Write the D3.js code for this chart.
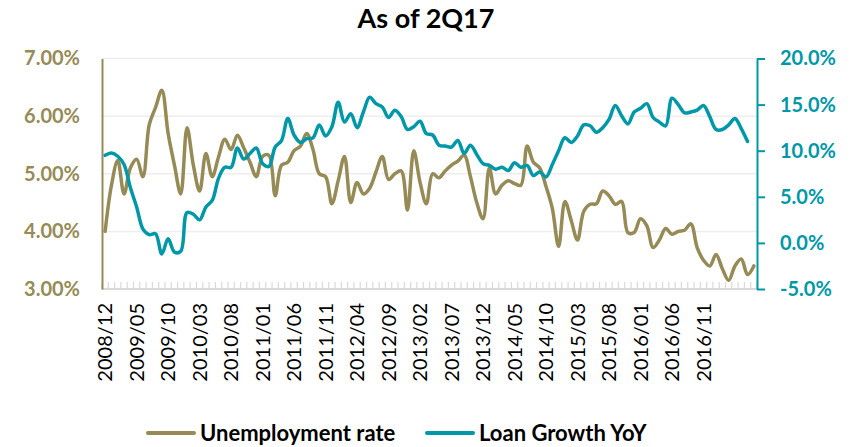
<!DOCTYPE html>
<html>
<head>
<meta charset="utf-8">
<script src="https://cdn.jsdelivr.net/npm/d3@7"></script>
<style>
  html, body { margin: 0; padding: 0; background: #fff; }
  svg { display: block; font-family: Lato, "Open Sans", "Liberation Sans", sans-serif; }
</style>
</head>
<body>
<svg id="chart" width="856" height="447"></svg>
<script>
// Monthly categories, Dec 2008 through Jul 2017
const months = [
  "2008/12",
  "2009/01","2009/02","2009/03","2009/04","2009/05","2009/06","2009/07","2009/08","2009/09","2009/10","2009/11","2009/12",
  "2010/01","2010/02","2010/03","2010/04","2010/05","2010/06","2010/07","2010/08","2010/09","2010/10","2010/11","2010/12",
  "2011/01","2011/02","2011/03","2011/04","2011/05","2011/06","2011/07","2011/08","2011/09","2011/10","2011/11","2011/12",
  "2012/01","2012/02","2012/03","2012/04","2012/05","2012/06","2012/07","2012/08","2012/09","2012/10","2012/11","2012/12",
  "2013/01","2013/02","2013/03","2013/04","2013/05","2013/06","2013/07","2013/08","2013/09","2013/10","2013/11","2013/12",
  "2014/01","2014/02","2014/03","2014/04","2014/05","2014/06","2014/07","2014/08","2014/09","2014/10","2014/11","2014/12",
  "2015/01","2015/02","2015/03","2015/04","2015/05","2015/06","2015/07","2015/08","2015/09","2015/10","2015/11","2015/12",
  "2016/01","2016/02","2016/03","2016/04","2016/05","2016/06","2016/07","2016/08","2016/09","2016/10","2016/11","2016/12",
  "2017/01","2017/02","2017/03","2017/04","2017/05","2017/06","2017/07"
];

// Category labels shown on the x axis (every fifth month)
const tickLabels = [
  "2008/12","2009/05","2009/10","2010/03","2010/08","2011/01","2011/06","2011/11",
  "2012/04","2012/09","2013/02","2013/07","2013/12","2014/05","2014/10","2015/03",
  "2015/08","2016/01","2016/06","2016/11"
];

// Unemployment rate, % (left axis)
const unemployment = [
  4.00, 4.80, 5.23, 4.65, 5.10, 5.25, 4.95, 5.85, 6.15, 6.45,
  5.70, 5.15, 4.65, 5.80, 5.15, 4.70, 5.35, 4.95, 5.29, 5.60,
  5.42, 5.67, 5.45, 5.20, 4.95, 5.30, 5.32, 4.62, 5.15, 5.20,
  5.40, 5.48, 5.70, 5.42, 5.00, 4.95, 4.48, 4.88, 5.30, 4.50,
  4.85, 4.65, 4.75, 5.03, 5.30, 4.90, 5.00, 5.05, 4.37, 5.40,
  4.85, 4.48, 5.00, 4.93, 5.05, 5.15, 5.22, 5.32, 4.95, 4.50,
  4.22, 5.10, 4.65, 4.80, 4.88, 4.83, 4.80, 5.48, 5.20, 5.10,
  4.78, 4.40, 3.74, 4.52, 4.19, 3.85, 4.35, 4.47, 4.48, 4.70,
  4.62, 4.47, 4.52, 3.98, 3.98, 4.22, 4.10, 3.72, 3.85, 4.05,
  3.95, 4.00, 4.02, 4.13, 3.72, 3.50, 3.40, 3.60, 3.35, 3.15,
  3.40, 3.52, 3.25, 3.40
];

// Loan growth year over year, % (right axis); no July 2017 figure
const loanGrowth = [
   9.50,  9.75,  9.40,  8.50,  6.00,  3.90,  1.50,  0.90,  1.00, -1.20,
   0.45, -1.00, -0.90,  3.30,  3.10,  2.50,  3.90,  4.60,  7.00,  8.20,
   8.20, 10.30,  9.10,  9.70, 10.30,  8.60,  8.30, 10.40, 11.10, 13.50,
  11.70, 10.90, 11.30, 11.40, 12.80, 11.60, 12.60, 15.25, 13.10, 14.00,
  12.50, 14.20, 15.80, 15.10, 14.75, 13.60, 14.40, 13.70, 12.30, 12.60,
  13.20, 11.85, 11.70, 10.60, 10.50, 10.40, 11.10,  9.70, 10.60,  9.60,
   8.60,  8.40,  8.00,  8.20,  7.85,  8.70,  8.20,  8.40,  7.30,  7.70,
   7.15,  8.50, 10.00, 11.40, 10.90, 11.60, 12.80, 12.70, 12.00, 12.50,
  13.40, 14.90, 13.80, 12.90, 14.20, 14.60, 15.10, 13.60, 13.10, 12.70,
  15.70, 15.00, 14.10, 14.20, 14.40, 14.90, 13.70, 12.30, 12.30, 12.80,
  13.50, 12.40, 11.00
];

const leftTicks = [3, 4, 5, 6, 7];
const rightTicks = [-5, 0, 5, 10, 15, 20];
const gridTicks = [4, 5, 6, 7];

const seriesNames = ["Unemployment rate", "Loan Growth YoY"];
const titleText = "As of 2Q17";

// ---- layout & styling ----
const plot = { left: 102, right: 757, top: 58.5, bottom: 289 };
const olive = "#968b56";
const teal = "#0098a9";

const svg = d3.select("#chart");

const x = d3.scaleBand().domain(months).range([plot.left, plot.right]).padding(0);
const yL = d3.scaleLinear().domain([3, 7]).range([plot.bottom, plot.top]);
const yR = d3.scaleLinear().domain([-5, 20]).range([plot.bottom, plot.top]);
const cx = m => x(m) + x.bandwidth() / 2;

// title
svg.append("text")
  .attr("x", 426).attr("y", 28)
  .attr("text-anchor", "middle")
  .attr("font-size", 27).attr("font-weight", 700).attr("fill", "#000")
  .text(titleText);

// horizontal gridlines
svg.append("g").selectAll("line").data(gridTicks).join("line")
  .attr("x1", plot.left).attr("x2", plot.right)
  .attr("y1", d => yL(d)).attr("y2", d => yL(d))
  .attr("stroke", "#eeeeee").attr("stroke-width", 1.5);

// x axis: baseline and one small tick per month boundary
const xg = svg.append("g");
xg.append("line")
  .attr("x1", plot.left).attr("x2", plot.right)
  .attr("y1", plot.bottom).attr("y2", plot.bottom)
  .attr("stroke", "#d9d9d9").attr("stroke-width", 2);
const bounds = months.map(m => x(m)).concat([plot.right]);
xg.selectAll("line.mt").data(bounds).join("line").attr("class", "mt")
  .attr("x1", d => d).attr("x2", d => d)
  .attr("y1", plot.bottom).attr("y2", plot.bottom - 7)
  .attr("stroke", "#d9d9d9").attr("stroke-width", 1.2);

// x axis labels (rotated)
const xAxis = d3.axisBottom(x).tickValues(tickLabels).tickSize(0).tickPadding(0);
const xl = svg.append("g").attr("transform", `translate(0,${plot.bottom})`).call(xAxis);
xl.select(".domain").remove();
xl.selectAll("text")
  .attr("transform", "rotate(-90)")
  .attr("text-anchor", "end")
  .attr("x", -14).attr("y", 0).attr("dy", "0.36em")
  .attr("font-size", 20).attr("font-family", "Lato, 'Open Sans', sans-serif")
  .attr("fill", "#000");

// left axis (unemployment)
const left = svg.append("g").attr("transform", `translate(${plot.left},0)`)
  .call(d3.axisLeft(yL).tickValues(leftTicks).tickSize(0).tickSizeOuter(0).tickPadding(22)
    .tickFormat(d => d.toFixed(2) + "%"));
left.select(".domain").attr("stroke", olive).attr("stroke-width", 2);
left.selectAll("text").attr("font-size", 20).attr("font-weight", 700)
  .attr("fill", olive).attr("font-family", "Lato, 'Open Sans', sans-serif");

// right axis (loan growth)
const right = svg.append("g").attr("transform", `translate(${plot.right},0)`)
  .call(d3.axisRight(yR).tickValues(rightTicks).tickSize(8).tickSizeOuter(0).tickPadding(15)
    .tickFormat(d => d.toFixed(1) + "%"));
right.select(".domain").attr("stroke", teal).attr("stroke-width", 2);
right.selectAll(".tick line").attr("stroke", teal).attr("stroke-width", 2);
right.selectAll("text").attr("font-size", 20).attr("font-weight", 700)
  .attr("fill", teal).attr("font-family", "Lato, 'Open Sans', sans-serif");

// series lines
const lineL = d3.line().x((d, i) => cx(months[i])).y(d => yL(d)).curve(d3.curveCatmullRom.alpha(0.5));
const lineR = d3.line().x((d, i) => cx(months[i])).y(d => yR(d)).curve(d3.curveCatmullRom.alpha(0.5));

svg.append("path").datum(unemployment)
  .attr("d", lineL).attr("fill", "none")
  .attr("stroke", olive).attr("stroke-width", 3.5)
  .attr("stroke-linejoin", "round").attr("stroke-linecap", "round");

svg.append("path").datum(loanGrowth)
  .attr("d", lineR).attr("fill", "none")
  .attr("stroke", teal).attr("stroke-width", 3.5)
  .attr("stroke-linejoin", "round").attr("stroke-linecap", "round");

// legend
const legend = svg.append("g").attr("font-size", 22).attr("font-weight", 700);
const legendItems = [
  { name: seriesNames[0], color: olive, x0: 148 },
  { name: seriesNames[1], color: teal, x0: 427 }
];
legendItems.forEach(it => {
  legend.append("line")
    .attr("x1", it.x0).attr("x2", it.x0 + 46)
    .attr("y1", 433).attr("y2", 433)
    .attr("stroke", it.color).attr("stroke-width", 4).attr("stroke-linecap", "round");
  legend.append("text")
    .attr("x", it.x0 + 52).attr("y", 441)
    .attr("fill", "#000")
    .text(it.name);
});
</script>
</body>
</html>
